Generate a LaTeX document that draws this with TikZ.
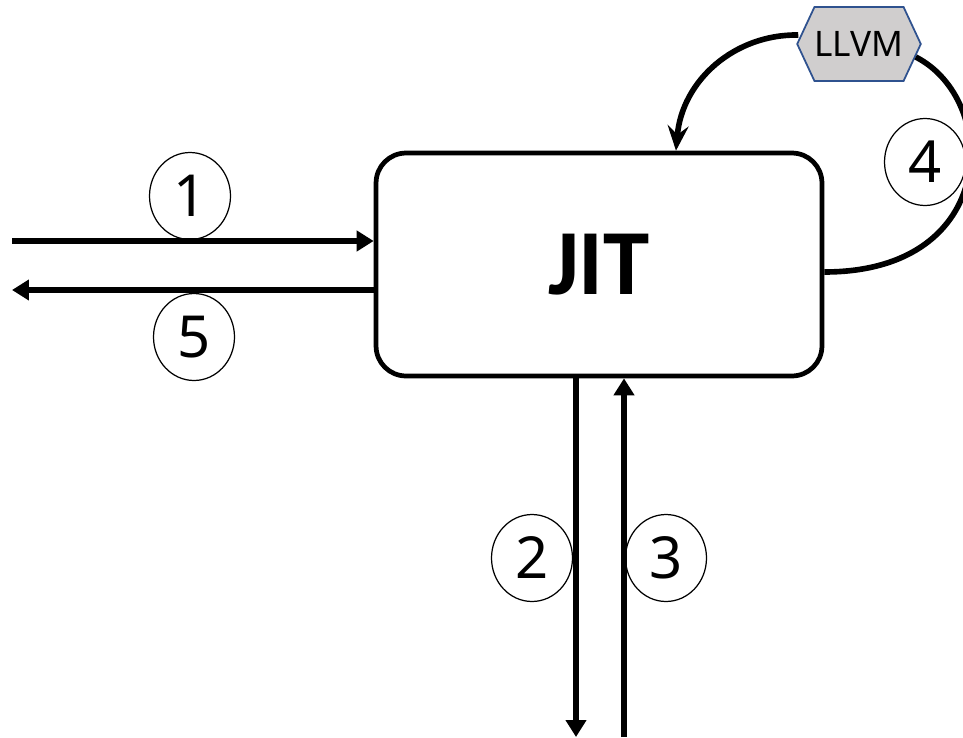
\documentclass[tikz,border=0pt]{standalone}
\usepackage{fontspec}
\setmainfont{Noto Sans}
\newfontfamily\jitfont{Carlito}
\usetikzlibrary{arrows.meta,calc,positioning,shapes.geometric,shapes.symbols}
\definecolor{llvmColor}{RGB}{208,206,206}
\definecolor{llvmBorder}{RGB}{47,82,143}
\tikzset{stage/.style={draw, line width=2.7pt, minimum width=8.92cm, minimum height=4.46cm, rounded corners=.6cm, font=\jitfont\bfseries\fontsize{53}{56}\selectfont}}
\tikzset{backend/.style={shape=signal, signal to=west and east, signal pointer angle=130, fill=llvmColor, draw=llvmBorder, line width=1pt, minimum width=2.18cm, minimum height=1.48cm, inner sep=0pt, font=\fontsize{20}{22}\selectfont}}
\tikzset{step num/.style={ellipse, draw, line width=.7pt, minimum width=1.62cm, minimum height=1.74cm, inner sep=0pt, font=\fontsize{33}{35}\selectfont}}
\tikzstyle{arrow} = [line width=3.1pt, -{Triangle[length=0.34cm, width=0.4cm]}]
\tikzstyle{flow} = [line width=3.2pt]

\begin{document}
\begin{tikzpicture}[x=0.02cm, y=-0.02cm]
	\useasboundingbox (0,0) rectangle (963,737);
	% Nodes
		\node (jit) [stage] at (599,264.5) {JIT};
		\node (llvm) [backend] at (859,44) {LLVM};

		\node (one) [step num] at (190,196) {1};
		\node (five) [step num] at (194,337) {5};
		\node (two) [step num] at (532,558) {2};
		\node (three) [step num] at (666,558) {3};
		\node (four) [step num] at (925,162) {4};

		\coordinate (src) at (12,241);
		\coordinate (dst) at (12,290);
		\coordinate (down) at (576,737);
		\coordinate (up) at (624,737);

		% Connectors
		\draw [arrow] (src) -- (src -| jit.west);
		\draw [arrow] (dst -| jit.west) -- (dst);
		\draw [arrow] (down |- jit.south) -- (down);
		\draw [arrow] (up) -- (up |- jit.south);
		\draw [flow, -{Stealth[length=0.5cm, width=0.42cm, inset=0.18cm]}] ($(llvm.west)+(2,-9)$) .. controls (735,34) and (682,80) .. ([xshift=1.54cm]jit.north);
		\draw [flow] ([yshift=-0.15cm]jit.east) .. controls (1000,272) and (1000,100) .. ($(llvm.east)+(-6,13)$);
\end{tikzpicture}
\end{document}
